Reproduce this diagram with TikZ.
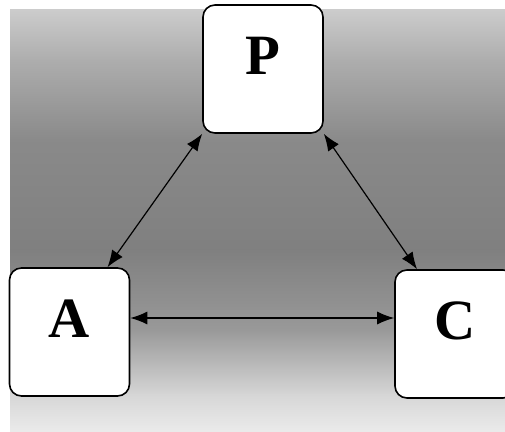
\documentclass[tikz,border=0pt]{standalone}
\usepackage{fontspec}
\setmainfont{Liberation Serif}
\usetikzlibrary{arrows.meta}
\begin{document}
\begin{tikzpicture}[x=1pt,y=-1pt]
		\tikzset{boxstyle/.style={rectangle, draw, line width=1.6pt, fill=white, minimum width=120pt, minimum height=128pt, rounded corners=12pt, font=\fontsize{57}{60}\selectfont\bfseries, text height=37pt, text depth=26pt, inner sep=0pt}}
		\tikzset{linkstyle/.style={arrows={Latex[length=17pt,width=13pt]-Latex[length=17pt,width=13pt]}, line width=1.2pt}}
		
		\useasboundingbox (0,0) rectangle (505,431);
		% background bands
		\foreach \ya/\yb/\ca/\cb in {10/60/20/32, 60/140/32/46, 140/250/46/50, 250/330/50/40, 330/395/40/16, 395/431/16/8}
			\shade[top color=black!\ca, bottom color=black!\cb] (10,\ya-0.5) rectangle (505,\yb+0.5);
		
		\node[boxstyle] (boxp) at (263,69) {P};
		\node[boxstyle] (boxa) at (69.5,332) {A};
		\node[boxstyle] (boxc) at (455,334) {C};
		
		\draw[linkstyle] (boxp.south west) -- ([xshift=38pt]boxa.north);
		\draw[linkstyle] (boxp.south east) -- ([xshift=-38pt]boxc.north);
		\draw[linkstyle] ([yshift=14pt]boxa.east) -- ([yshift=14pt]boxa.east -| boxc.west);
		
		\end{tikzpicture}
\end{document}
